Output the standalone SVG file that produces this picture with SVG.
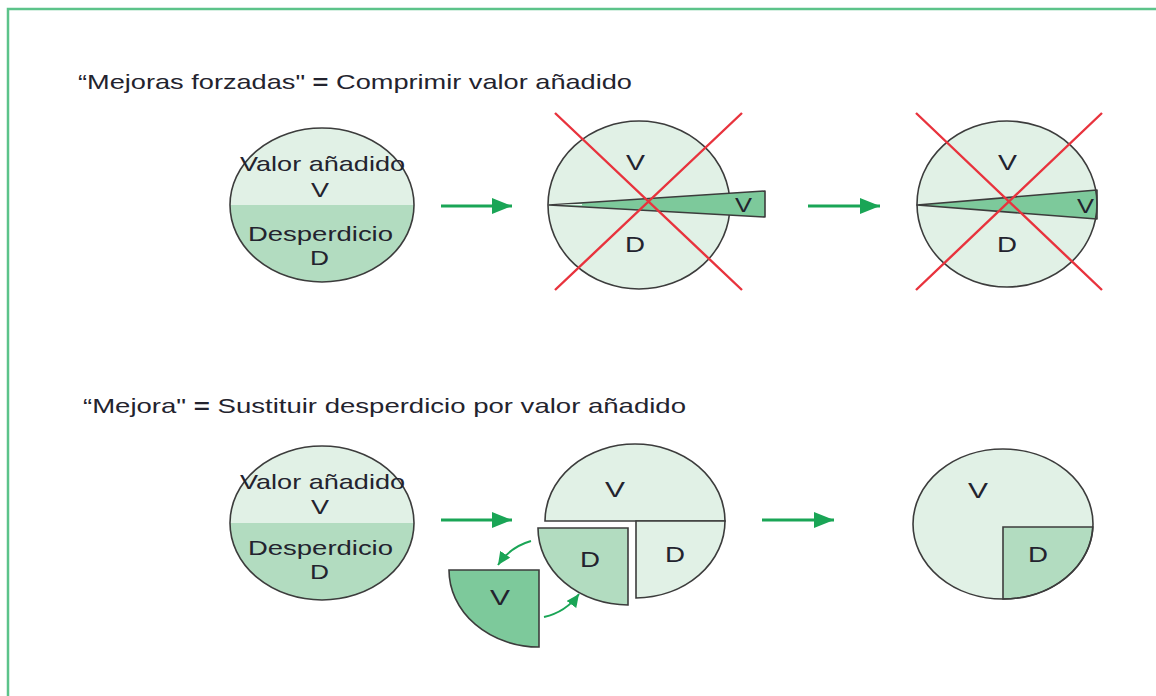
<svg xmlns="http://www.w3.org/2000/svg" width="1156" height="696" viewBox="0 0 1156 696">
<style>
.t{font-family:"Liberation Sans",Arial,sans-serif;fill:#23232e}
.f20{font-size:21px}
.f22{font-size:22px}
.lt{fill:#e1f1e6}
.md{fill:#b2dcc0}
.dk{fill:#7dc99b}
.ol{fill:none;stroke:#3c3c3c;stroke-width:1.6}
.edge{stroke:#3c3c3c;stroke-width:1.6}
.red{stroke:#e8333d;stroke-width:2.4;fill:none}
.arr{stroke:#1aa556;stroke-width:3;fill:none}
.carr{stroke:#1aa556;stroke-width:2;fill:none}
</style>
<defs>
<marker id="ah" markerUnits="userSpaceOnUse" markerWidth="20" markerHeight="16" refX="20" refY="8" orient="auto">
<path d="M0,0 L20,8 L0,16 z" fill="#1aa556"/>
</marker>
<marker id="ahs" markerUnits="userSpaceOnUse" markerWidth="13" markerHeight="12" refX="13" refY="6" orient="auto">
<path d="M0,0 L13,6 L0,12 z" fill="#1aa556"/>
</marker>
</defs>
<rect width="1156" height="696" fill="#ffffff"/>
<path d="M8,696 V9 H1156" fill="none" stroke="#5cc38a" stroke-width="2.5"/>

<g id="title1">
<text class="t f20" x="78" y="89" textLength="554" lengthAdjust="spacingAndGlyphs">“Mejoras forzadas" <tspan font-weight="bold">=</tspan> Comprimir valor añadido</text>
</g>
<g id="title2">
<text class="t f20" x="83" y="413" textLength="603" lengthAdjust="spacingAndGlyphs">“Mejora" <tspan font-weight="bold">=</tspan> Sustituir desperdicio por valor añadido</text>
</g>

<g id="n1">
<clipPath id="c1"><ellipse cx="322" cy="205" rx="92" ry="77"/></clipPath>
<g clip-path="url(#c1)">
<rect x="228" y="126" width="190" height="79" class="lt"/>
<rect x="228" y="205" width="190" height="80" class="md"/>
</g>
<ellipse cx="322" cy="205" rx="92" ry="77" class="ol"/>
<text class="t f20" x="240" y="171" textLength="165" lengthAdjust="spacingAndGlyphs">Valor añadido</text>
<text class="t f20" x="311" y="197" textLength="18" lengthAdjust="spacingAndGlyphs">V</text>
<text class="t f20" x="248" y="241" textLength="145" lengthAdjust="spacingAndGlyphs">Desperdicio</text>
<text class="t f20" x="310" y="265" textLength="19" lengthAdjust="spacingAndGlyphs">D</text>
</g>

<g id="n2">
<ellipse cx="639" cy="205" rx="91" ry="84" class="lt"/>
<ellipse cx="639" cy="205" rx="91" ry="84" class="ol"/>
<polygon points="549,205 765,191 765,217" class="dk edge" stroke-linejoin="round"/>
<polygon points="556,204.8 582,204.1 582,205.2" fill="#ffffff"/>
<text class="t f22" x="626" y="170" textLength="19" lengthAdjust="spacingAndGlyphs">V</text>
<text class="t f22" x="625" y="252" textLength="20" lengthAdjust="spacingAndGlyphs">D</text>
<text class="t f20" x="735" y="212" textLength="17" lengthAdjust="spacingAndGlyphs">V</text>
<path d="M555,113 L742,290 M742,113 L555,290" class="red"/>
</g>

<g id="n3">
<ellipse cx="1007" cy="204" rx="90" ry="83" class="lt"/>
<polygon points="917,205 1097,190 1097,219" class="dk edge" stroke-linejoin="round"/>
<ellipse cx="1007" cy="204" rx="90" ry="83" class="ol"/>
<text class="t f22" x="998" y="170" textLength="19" lengthAdjust="spacingAndGlyphs">V</text>
<text class="t f22" x="997" y="252" textLength="20" lengthAdjust="spacingAndGlyphs">D</text>
<text class="t f20" x="1077" y="213" textLength="17" lengthAdjust="spacingAndGlyphs">V</text>
<path d="M916,113 L1102,290 M1102,113 L916,290" class="red"/>
</g>

<g id="n4">
<clipPath id="c4"><ellipse cx="322" cy="523" rx="92" ry="77"/></clipPath>
<g clip-path="url(#c4)">
<rect x="228" y="444" width="190" height="79" class="lt"/>
<rect x="228" y="523" width="190" height="80" class="md"/>
</g>
<ellipse cx="322" cy="523" rx="92" ry="77" class="ol"/>
<text class="t f20" x="240" y="489" textLength="165" lengthAdjust="spacingAndGlyphs">Valor añadido</text>
<text class="t f20" x="311" y="514" textLength="18" lengthAdjust="spacingAndGlyphs">V</text>
<text class="t f20" x="248" y="555" textLength="145" lengthAdjust="spacingAndGlyphs">Desperdicio</text>
<text class="t f20" x="310" y="579" textLength="19" lengthAdjust="spacingAndGlyphs">D</text>
</g>

<g id="n5">
<path d="M545,521 A90,77 0 0 1 725,521 Z" class="lt edge"/>
<path d="M636,521 H725 A90,77 0 0 1 636,598 Z" class="lt edge"/>
<text class="t f22" x="605" y="497" textLength="20" lengthAdjust="spacingAndGlyphs">V</text>
<text class="t f22" x="665" y="562" textLength="20" lengthAdjust="spacingAndGlyphs">D</text>
</g>

<g id="n5d">
<path d="M628,528 V605 A90,77 0 0 1 538,528 Z" class="md edge"/>
<text class="t f22" x="580" y="567" textLength="20" lengthAdjust="spacingAndGlyphs">D</text>
</g>

<g id="n5v">
<path d="M539,570 V647 A90,77 0 0 1 449,570 Z" class="dk edge"/>
<text class="t f22" x="490" y="605" textLength="20" lengthAdjust="spacingAndGlyphs">V</text>
</g>

<g id="n6">
<ellipse cx="1003" cy="524" rx="90" ry="75" class="lt"/>
<path d="M1003,527 H1092.8 A90,75 0 0 1 1003,599 Z" class="md edge"/>
<ellipse cx="1003" cy="524" rx="90" ry="75" class="ol"/>
<text class="t f22" x="968" y="498" textLength="20" lengthAdjust="spacingAndGlyphs">V</text>
<text class="t f22" x="1028" y="562" textLength="20" lengthAdjust="spacingAndGlyphs">D</text>
</g>

<g id="connectors">
<path d="M441,206 H512" class="arr" marker-end="url(#ah)"/>
<path d="M808,206 H880" class="arr" marker-end="url(#ah)"/>
<path d="M441,520 H512" class="arr" marker-end="url(#ah)"/>
<path d="M762,520 H834" class="arr" marker-end="url(#ah)"/>
<path d="M531,541 Q510,547 498,565" class="carr" marker-end="url(#ahs)"/>
<path d="M544,617 Q566,612 579,594" class="carr" marker-end="url(#ahs)"/>
</g>
</svg>
